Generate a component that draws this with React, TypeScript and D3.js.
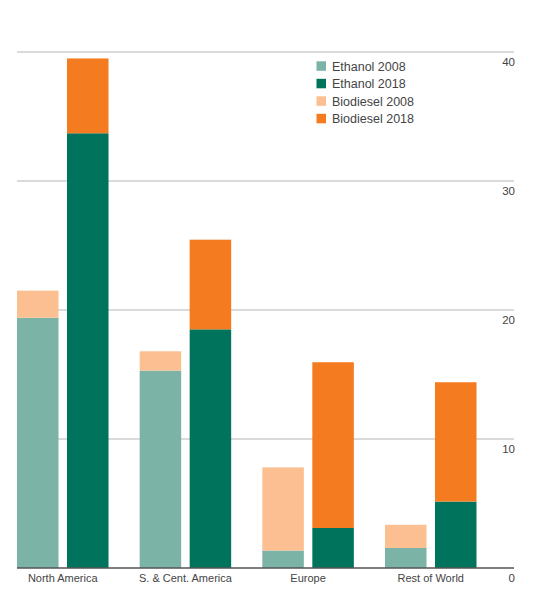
import * as d3 from "d3";

const regions = ["North America", "S. & Cent. America", "Europe", "Rest of World"];
const years = ["2008", "2018"];
const ethanol2008 = [19.4, 15.3, 1.35, 1.55];
const biodiesel2008 = [2.1, 1.5, 6.45, 1.8];
const ethanol2018 = [33.7, 18.5, 3.1, 5.15];
const biodiesel2018 = [5.8, 6.95, 12.85, 9.25];
const yTicks = [0, 10, 20, 30, 40];

const legendItems = [
  { label: "Ethanol 2008", color: "#7bb3a7" },
  { label: "Ethanol 2018", color: "#00735d" },
  { label: "Biodiesel 2008", color: "#fbbf91" },
  { label: "Biodiesel 2018", color: "#f47b20" },
];

const width = 542;
const height = 599;
const plot = { left: 17, right: 514, top: 52, bottom: 568 };
const font = "'Liberation Sans', Arial, sans-serif";

const x = d3
  .scaleBand()
  .domain(regions)
  .range([plot.left, 476.5])
  .paddingInner(0.254)
  .paddingOuter(0);

const xInner = d3
  .scaleBand()
  .domain(years)
  .range([0, x.bandwidth()])
  .paddingInner(0.17);

const y = d3.scaleLinear().domain([0, 40]).range([plot.bottom, plot.top]);

const stacks = regions.flatMap((r, i) => [
  { region: r, year: "2008", ethanol: ethanol2008[i], biodiesel: biodiesel2008[i], c: [legendItems[0].color, legendItems[2].color] },
  { region: r, year: "2018", ethanol: ethanol2018[i], biodiesel: biodiesel2018[i], c: [legendItems[1].color, legendItems[3].color] },
]);

export default function App() {
  return (
    <svg
      width={width}
      height={height}
      style={{ position: "absolute", left: 0, top: 0, background: "#fff" }}
    >
      {yTicks
        .filter((t) => t > 0)
        .map((t) => (
          <line
            key={t}
            x1={plot.left}
            x2={plot.right}
            y1={y(t)}
            y2={y(t)}
            stroke="#b5b5b5"
            strokeWidth={1.2}
          />
        ))}
      {stacks.map((s) => {
        const bx = (x(s.region) as number) + (xInner(s.year) as number);
        const w = xInner.bandwidth();
        return (
          <g key={s.region + s.year}>
            <rect
              x={bx}
              y={y(s.ethanol)}
              width={w}
              height={y(0) - y(s.ethanol)}
              fill={s.c[0]}
            />
            <rect
              x={bx}
              y={y(s.ethanol + s.biodiesel)}
              width={w}
              height={y(s.ethanol) - y(s.ethanol + s.biodiesel)}
              fill={s.c[1]}
            />
          </g>
        );
      })}
      <line
        x1={plot.left}
        x2={plot.right}
        y1={y(0)}
        y2={y(0)}
        stroke="#555"
        strokeWidth={1.4}
      />
      {yTicks.map((t) => (
        <text
          key={t}
          x={plot.right + 1}
          y={y(t) + 13.5}
          textAnchor="end"
          fontFamily={font}
          fontSize={11.5}
          fill="#444"
        >
          {t}
        </text>
      ))}
      {regions.map((r) => (
        <text
          key={r}
          x={(x(r) as number) + x.bandwidth() / 2}
          y={y(0) + 14}
          textAnchor="middle"
          fontFamily={font}
          fontSize={11}
          fill="#444"
        >
          {r}
        </text>
      ))}
      {legendItems.map((d, i) => (
        <g key={d.label} transform={`translate(316.5, ${66 + i * 17.5})`}>
          <rect x={0} y={-4.7} width={9.5} height={9.5} fill={d.color} />
          <text
            x={15.5}
            y={4.5}
            fontFamily={font}
            fontSize={12.5}
            fill="#444"
          >
            {d.label}
          </text>
        </g>
      ))}
    </svg>
  );
}
